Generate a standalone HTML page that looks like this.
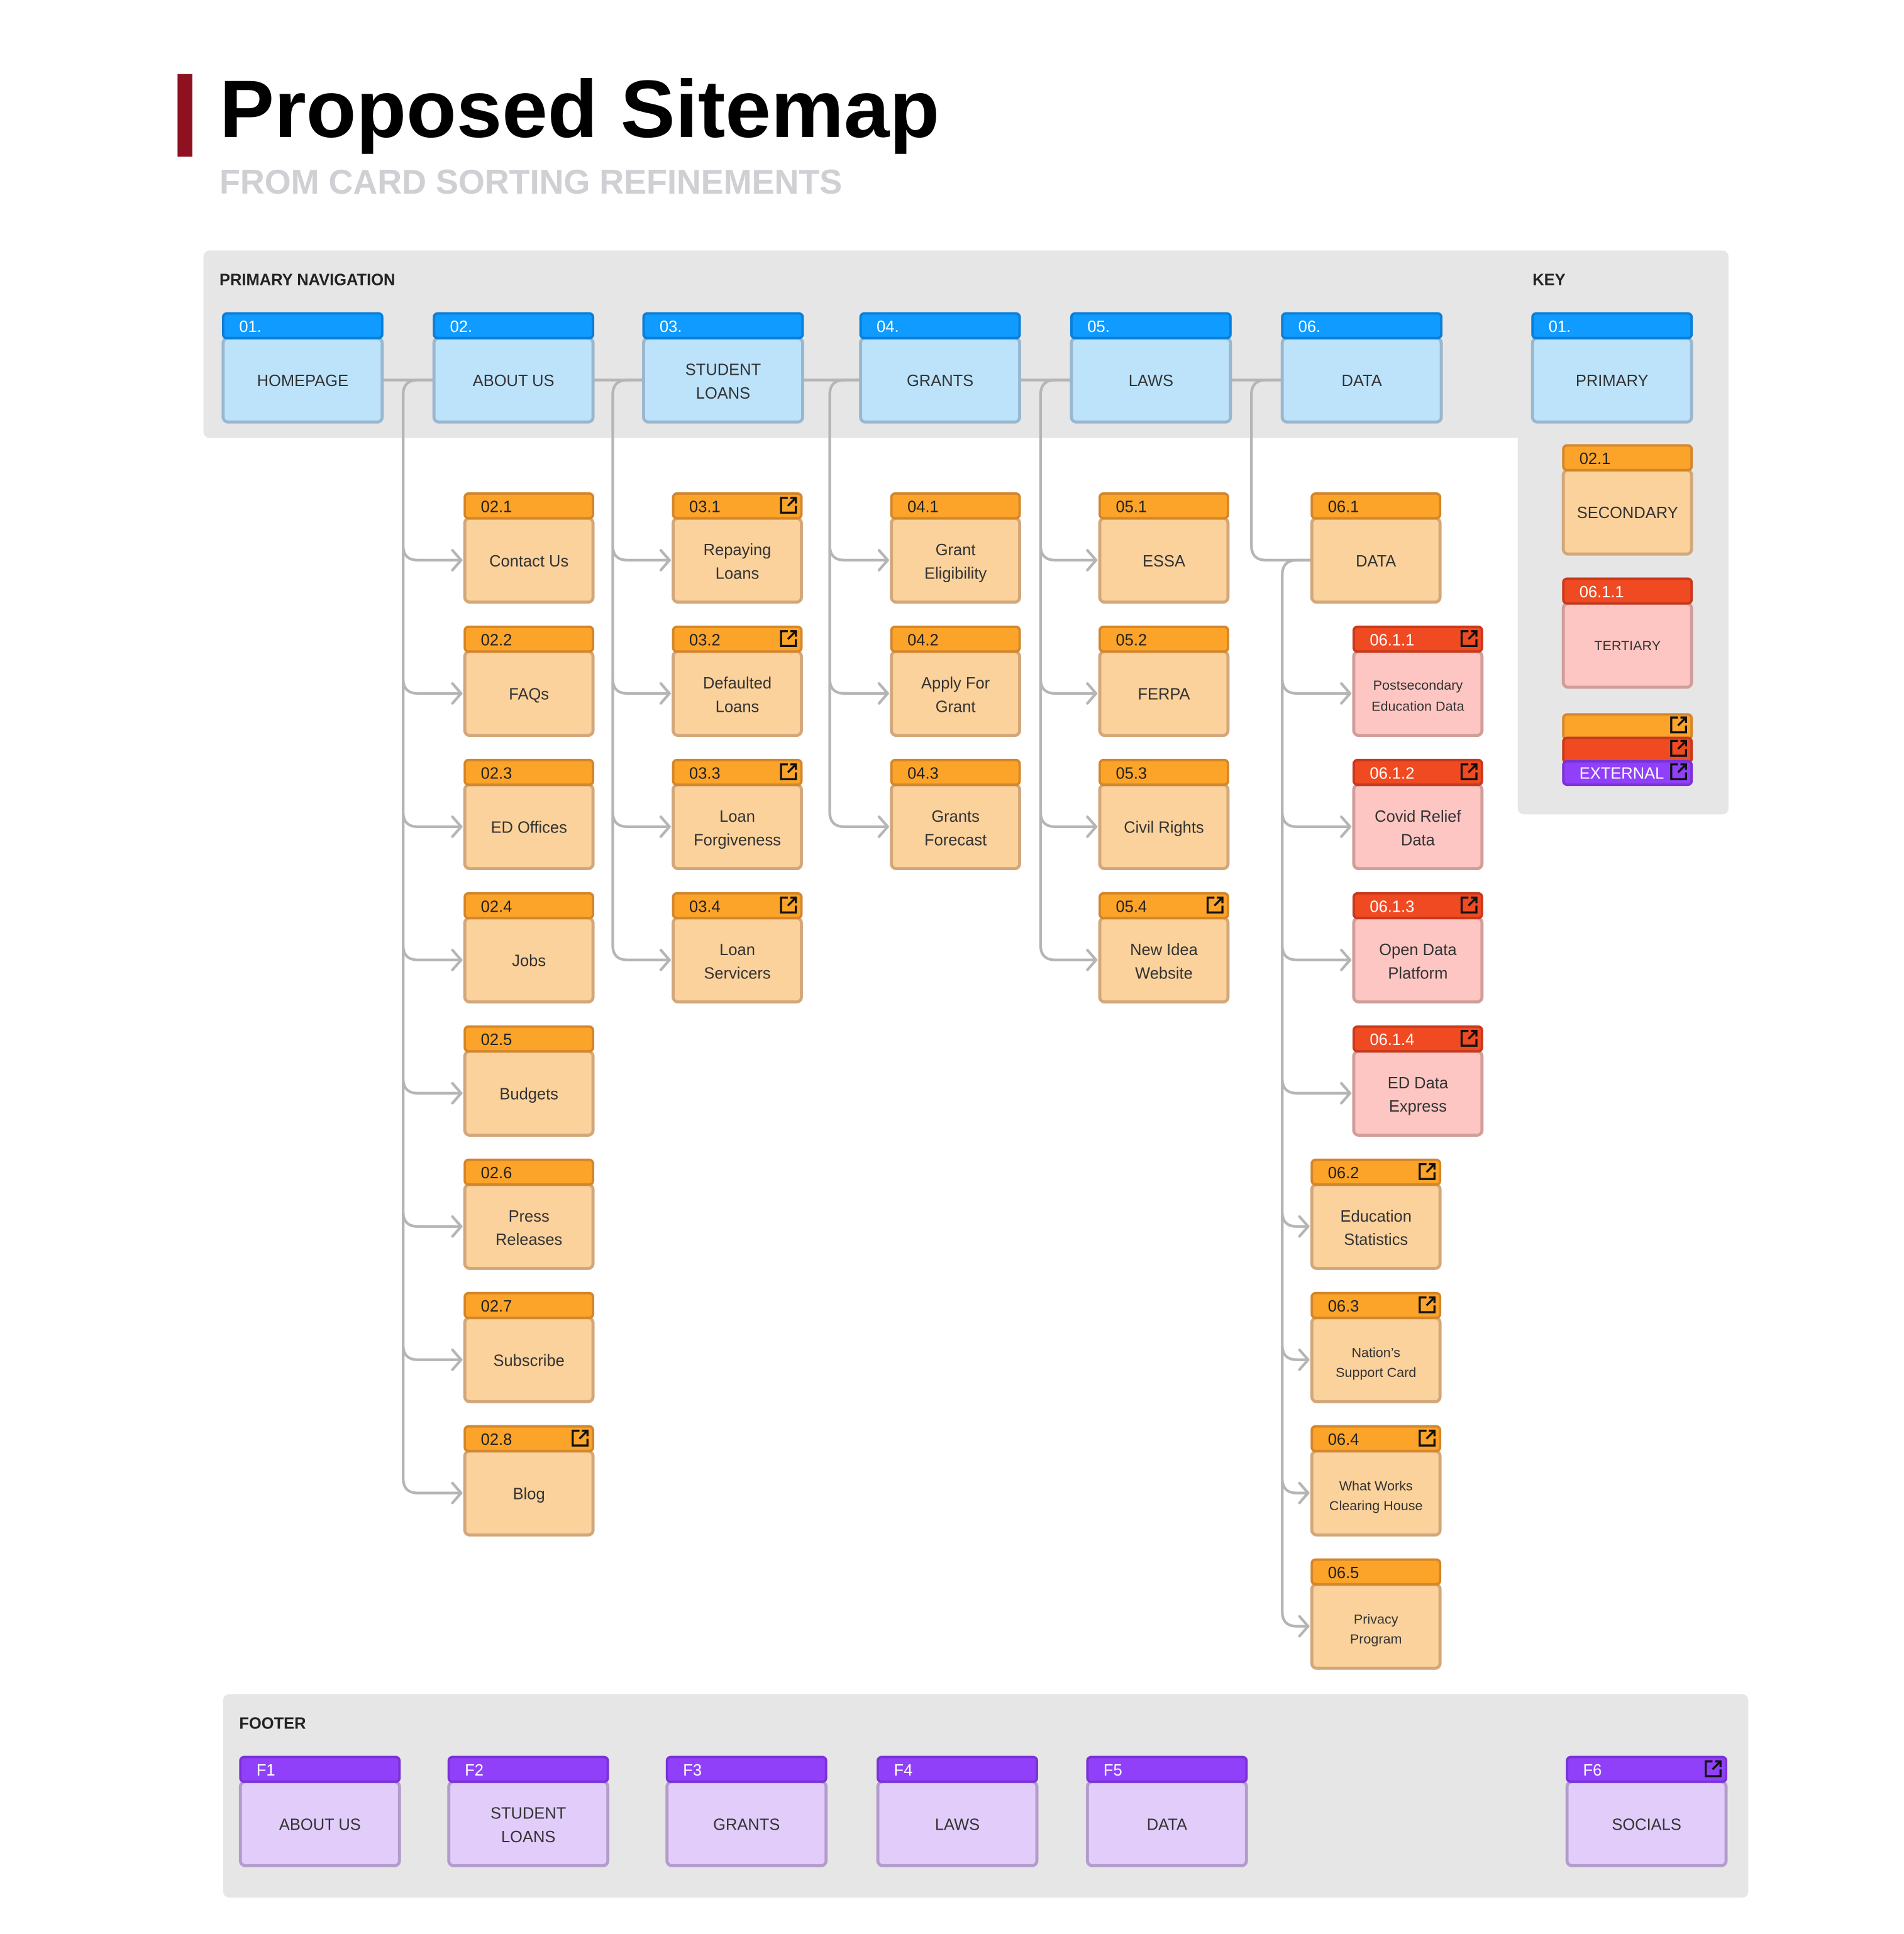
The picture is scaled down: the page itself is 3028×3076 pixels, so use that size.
<!DOCTYPE html>
<html><head><meta charset="utf-8"><style>
html,body{margin:0;padding:0;background:#fff}
svg{display:block}
text{font-family:"Liberation Sans",sans-serif}
.h{stroke-width:2}
.b{stroke-width:2.5}
.p .h{fill:#0f9bff;stroke:#0a7ed8}.p .b{fill:#bde3fb;stroke:#99b7cf}
.s .h{fill:#fca42a;stroke:#d4862a}.s .b{fill:#fbd29c;stroke:#d2a77a}
.t .h{fill:#f04a23;stroke:#c8391c}.t .b{fill:#fdc6c2;stroke:#d09e9a}
.f .h{fill:#9140fa;stroke:#7a32d6}.f .b{fill:#e2cdfa;stroke:#b39ccc}
.hl{font-size:13px;fill:#fff}
.s .hl{fill:#222}
.bl{font-size:13px;fill:#333;text-anchor:middle}
.sm{font-size:11px}
.ic{fill:none;stroke:#111;stroke-width:1.7}
.ln{fill:none;stroke:#b5b5b5;stroke-width:2.2;stroke-linecap:round;stroke-linejoin:round}
.sec{font-size:13px;font-weight:bold;fill:#222}
</style></head><body>
<svg width="3028" height="3076" viewBox="0 0 1544.3 1567.4" preserveAspectRatio="none" xmlns="http://www.w3.org/2000/svg">
<defs>
<g id="ic"><path class="ic" d="M7 1.5H1.5V13.5H13.5V8"/><path class="ic" d="M9 1.5H13.5V6M13.5 1.5L7 8"/></g>
</defs>
<!-- title -->
<rect x="144" y="60" width="12" height="67" fill="#8e1120"/>
<text x="178" y="111" font-size="66" font-weight="bold" fill="#000" textLength="584" lengthAdjust="spacingAndGlyphs">Proposed Sitemap</text>
<text x="178" y="157" font-size="28" font-weight="bold" fill="#cfcfd4" textLength="505" lengthAdjust="spacingAndGlyphs">FROM CARD SORTING REFINEMENTS</text>
<!-- panels -->
<rect x="165" y="203" width="1237" height="152" rx="5" fill="#e6e6e6"/>
<rect x="1231" y="340" width="171" height="320" rx="5" fill="#e6e6e6"/>
<rect x="181" y="1373" width="1237" height="165" rx="5" fill="#e6e6e6"/>
<text x="178" y="231" class="sec">PRIMARY NAVIGATION</text>
<text x="1243" y="231" class="sec">KEY</text>
<text x="194" y="1401" class="sec">FOOTER</text>
<!-- connectors -->
<path class="ln" d="M311,308H351M482,308H521M652,308H697M828,308H868M999,308H1039"/>
<path class="ln" d="M351,308H339Q327,308 327,320M521,308H509Q497,308 497,320M697,308H685Q673,308 673,320M868,308H856Q844,308 844,320M1039,308H1027Q1015,308 1015,320"/>
<path class="ln" d="M327,320V442Q327,454 339,454H374M327,320V550Q327,562 339,562H374M327,320V658Q327,670 339,670H374M327,320V766Q327,778 339,778H374M327,320V874Q327,886 339,886H374M327,320V982Q327,994 339,994H374M327,320V1090Q327,1102 339,1102H374M327,320V1198Q327,1210 339,1210H374"/>
<path class="ln" d="M367,446L374,454L367,462M367,554L374,562L367,570M367,662L374,670L367,678M367,770L374,778L367,786M367,878L374,886L367,894M367,986L374,994L367,1002M367,1094L374,1102L367,1110M367,1202L374,1210L367,1218"/>
<path class="ln" d="M497,320V442Q497,454 509,454H543M497,320V550Q497,562 509,562H543M497,320V658Q497,670 509,670H543M497,320V766Q497,778 509,778H543"/>
<path class="ln" d="M536,446L543,454L536,462M536,554L543,562L536,570M536,662L543,670L536,678M536,770L543,778L536,786"/>
<path class="ln" d="M673,320V442Q673,454 685,454H720M673,320V550Q673,562 685,562H720M673,320V658Q673,670 685,670H720"/>
<path class="ln" d="M713,446L720,454L713,462M713,554L720,562L713,570M713,662L720,670L713,678"/>
<path class="ln" d="M844,320V442Q844,454 856,454H889M844,320V550Q844,562 856,562H889M844,320V658Q844,670 856,670H889M844,320V766Q844,778 856,778H889"/>
<path class="ln" d="M882,446L889,454L882,462M882,554L889,562L882,570M882,662L889,670L882,678M882,770L889,778L882,786"/>
<path class="ln" d="M1015,320V442Q1015,454 1027,454H1063"/>
<path class="ln" d="M1063,454H1052Q1040,454 1040,466"/>
<path class="ln" d="M1040,466V550Q1040,562 1052,562H1095M1040,466V658Q1040,670 1052,670H1095M1040,466V766Q1040,778 1052,778H1095M1040,466V874Q1040,886 1052,886H1095M1040,466V982Q1040,994 1052,994H1061M1040,466V1090Q1040,1102 1052,1102H1061M1040,466V1198Q1040,1210 1052,1210H1061M1040,466V1306Q1040,1318 1052,1318H1061"/>
<path class="ln" d="M1088,554L1095,562L1088,570M1088,662L1095,670L1088,678M1088,770L1095,778L1088,786M1088,878L1095,886L1088,894M1054,986L1061,994L1054,1002M1054,1094L1061,1102L1054,1110M1054,1202L1061,1210L1054,1218M1054,1310L1061,1318L1054,1326"/>

<!-- primary cards -->
<g class="p" transform="translate(180,253)"><rect class="b" x="1" y="21" width="129" height="68" rx="4"/><rect class="h" x="1" y="1" width="129" height="20" rx="3"/><text class="hl" x="14" y="16">01.</text><text class="bl" x="65.5" y="60">HOMEPAGE</text></g>
<g class="p" transform="translate(351,253)"><rect class="b" x="1" y="21" width="129" height="68" rx="4"/><rect class="h" x="1" y="1" width="129" height="20" rx="3"/><text class="hl" x="14" y="16">02.</text><text class="bl" x="65.5" y="60">ABOUT US</text></g>
<g class="p" transform="translate(521,253)"><rect class="b" x="1" y="21" width="129" height="68" rx="4"/><rect class="h" x="1" y="1" width="129" height="20" rx="3"/><text class="hl" x="14" y="16">03.</text><text class="bl" x="65.5" y="51">STUDENT</text><text class="bl" x="65.5" y="70">LOANS</text></g>
<g class="p" transform="translate(697,253)"><rect class="b" x="1" y="21" width="129" height="68" rx="4"/><rect class="h" x="1" y="1" width="129" height="20" rx="3"/><text class="hl" x="14" y="16">04.</text><text class="bl" x="65.5" y="60">GRANTS</text></g>
<g class="p" transform="translate(868,253)"><rect class="b" x="1" y="21" width="129" height="68" rx="4"/><rect class="h" x="1" y="1" width="129" height="20" rx="3"/><text class="hl" x="14" y="16">05.</text><text class="bl" x="65.5" y="60">LAWS</text></g>
<g class="p" transform="translate(1039,253)"><rect class="b" x="1" y="21" width="129" height="68" rx="4"/><rect class="h" x="1" y="1" width="129" height="20" rx="3"/><text class="hl" x="14" y="16">06.</text><text class="bl" x="65.5" y="60">DATA</text></g>
<g class="p" transform="translate(1242,253)"><rect class="b" x="1" y="21" width="129" height="68" rx="4"/><rect class="h" x="1" y="1" width="129" height="20" rx="3"/><text class="hl" x="14" y="16">01.</text><text class="bl" x="65.5" y="60">PRIMARY</text></g>

<!-- column 02 -->
<g class="s" transform="translate(376,399)"><rect class="b" x="1" y="21" width="104" height="68" rx="4"/><rect class="h" x="1" y="1" width="104" height="20" rx="3"/><text class="hl" x="14" y="16">02.1</text><text class="bl" x="53" y="60">Contact Us</text></g>
<g class="s" transform="translate(376,507)"><rect class="b" x="1" y="21" width="104" height="68" rx="4"/><rect class="h" x="1" y="1" width="104" height="20" rx="3"/><text class="hl" x="14" y="16">02.2</text><text class="bl" x="53" y="60">FAQs</text></g>
<g class="s" transform="translate(376,615)"><rect class="b" x="1" y="21" width="104" height="68" rx="4"/><rect class="h" x="1" y="1" width="104" height="20" rx="3"/><text class="hl" x="14" y="16">02.3</text><text class="bl" x="53" y="60">ED Offices</text></g>
<g class="s" transform="translate(376,723)"><rect class="b" x="1" y="21" width="104" height="68" rx="4"/><rect class="h" x="1" y="1" width="104" height="20" rx="3"/><text class="hl" x="14" y="16">02.4</text><text class="bl" x="53" y="60">Jobs</text></g>
<g class="s" transform="translate(376,831)"><rect class="b" x="1" y="21" width="104" height="68" rx="4"/><rect class="h" x="1" y="1" width="104" height="20" rx="3"/><text class="hl" x="14" y="16">02.5</text><text class="bl" x="53" y="60">Budgets</text></g>
<g class="s" transform="translate(376,939)"><rect class="b" x="1" y="21" width="104" height="68" rx="4"/><rect class="h" x="1" y="1" width="104" height="20" rx="3"/><text class="hl" x="14" y="16">02.6</text><text class="bl" x="53" y="51">Press</text><text class="bl" x="53" y="70">Releases</text></g>
<g class="s" transform="translate(376,1047)"><rect class="b" x="1" y="21" width="104" height="68" rx="4"/><rect class="h" x="1" y="1" width="104" height="20" rx="3"/><text class="hl" x="14" y="16">02.7</text><text class="bl" x="53" y="60">Subscribe</text></g>
<g class="s" transform="translate(376,1155)"><rect class="b" x="1" y="21" width="104" height="68" rx="4"/><rect class="h" x="1" y="1" width="104" height="20" rx="3"/><text class="hl" x="14" y="16">02.8</text><use href="#ic" x="87" y="3"/><text class="bl" x="53" y="60">Blog</text></g>

<!-- column 03 -->
<g class="s" transform="translate(545,399)"><rect class="b" x="1" y="21" width="104" height="68" rx="4"/><rect class="h" x="1" y="1" width="104" height="20" rx="3"/><text class="hl" x="14" y="16">03.1</text><use href="#ic" x="87" y="3"/><text class="bl" x="53" y="51">Repaying</text><text class="bl" x="53" y="70">Loans</text></g>
<g class="s" transform="translate(545,507)"><rect class="b" x="1" y="21" width="104" height="68" rx="4"/><rect class="h" x="1" y="1" width="104" height="20" rx="3"/><text class="hl" x="14" y="16">03.2</text><use href="#ic" x="87" y="3"/><text class="bl" x="53" y="51">Defaulted</text><text class="bl" x="53" y="70">Loans</text></g>
<g class="s" transform="translate(545,615)"><rect class="b" x="1" y="21" width="104" height="68" rx="4"/><rect class="h" x="1" y="1" width="104" height="20" rx="3"/><text class="hl" x="14" y="16">03.3</text><use href="#ic" x="87" y="3"/><text class="bl" x="53" y="51">Loan</text><text class="bl" x="53" y="70">Forgiveness</text></g>
<g class="s" transform="translate(545,723)"><rect class="b" x="1" y="21" width="104" height="68" rx="4"/><rect class="h" x="1" y="1" width="104" height="20" rx="3"/><text class="hl" x="14" y="16">03.4</text><use href="#ic" x="87" y="3"/><text class="bl" x="53" y="51">Loan</text><text class="bl" x="53" y="70">Servicers</text></g>

<!-- column 04 -->
<g class="s" transform="translate(722,399)"><rect class="b" x="1" y="21" width="104" height="68" rx="4"/><rect class="h" x="1" y="1" width="104" height="20" rx="3"/><text class="hl" x="14" y="16">04.1</text><text class="bl" x="53" y="51">Grant</text><text class="bl" x="53" y="70">Eligibility</text></g>
<g class="s" transform="translate(722,507)"><rect class="b" x="1" y="21" width="104" height="68" rx="4"/><rect class="h" x="1" y="1" width="104" height="20" rx="3"/><text class="hl" x="14" y="16">04.2</text><text class="bl" x="53" y="51">Apply For</text><text class="bl" x="53" y="70">Grant</text></g>
<g class="s" transform="translate(722,615)"><rect class="b" x="1" y="21" width="104" height="68" rx="4"/><rect class="h" x="1" y="1" width="104" height="20" rx="3"/><text class="hl" x="14" y="16">04.3</text><text class="bl" x="53" y="51">Grants</text><text class="bl" x="53" y="70">Forecast</text></g>

<!-- column 05 -->
<g class="s" transform="translate(891,399)"><rect class="b" x="1" y="21" width="104" height="68" rx="4"/><rect class="h" x="1" y="1" width="104" height="20" rx="3"/><text class="hl" x="14" y="16">05.1</text><text class="bl" x="53" y="60">ESSA</text></g>
<g class="s" transform="translate(891,507)"><rect class="b" x="1" y="21" width="104" height="68" rx="4"/><rect class="h" x="1" y="1" width="104" height="20" rx="3"/><text class="hl" x="14" y="16">05.2</text><text class="bl" x="53" y="60">FERPA</text></g>
<g class="s" transform="translate(891,615)"><rect class="b" x="1" y="21" width="104" height="68" rx="4"/><rect class="h" x="1" y="1" width="104" height="20" rx="3"/><text class="hl" x="14" y="16">05.3</text><text class="bl" x="53" y="60">Civil Rights</text></g>
<g class="s" transform="translate(891,723)"><rect class="b" x="1" y="21" width="104" height="68" rx="4"/><rect class="h" x="1" y="1" width="104" height="20" rx="3"/><text class="hl" x="14" y="16">05.4</text><use href="#ic" x="87" y="3"/><text class="bl" x="53" y="51">New Idea</text><text class="bl" x="53" y="70">Website</text></g>

<!-- column 06 -->
<g class="s" transform="translate(1063,399)"><rect class="b" x="1" y="21" width="104" height="68" rx="4"/><rect class="h" x="1" y="1" width="104" height="20" rx="3"/><text class="hl" x="14" y="16">06.1</text><text class="bl" x="53" y="60">DATA</text></g>
<g class="t" transform="translate(1097,507)"><rect class="b" x="1" y="21" width="104" height="68" rx="4"/><rect class="h" x="1" y="1" width="104" height="20" rx="3"/><text class="hl" x="14" y="16">06.1.1</text><use href="#ic" x="87" y="3"/><text class="bl sm" x="53" y="52">Postsecondary</text><text class="bl sm" x="53" y="69">Education Data</text></g>
<g class="t" transform="translate(1097,615)"><rect class="b" x="1" y="21" width="104" height="68" rx="4"/><rect class="h" x="1" y="1" width="104" height="20" rx="3"/><text class="hl" x="14" y="16">06.1.2</text><use href="#ic" x="87" y="3"/><text class="bl" x="53" y="51">Covid Relief</text><text class="bl" x="53" y="70">Data</text></g>
<g class="t" transform="translate(1097,723)"><rect class="b" x="1" y="21" width="104" height="68" rx="4"/><rect class="h" x="1" y="1" width="104" height="20" rx="3"/><text class="hl" x="14" y="16">06.1.3</text><use href="#ic" x="87" y="3"/><text class="bl" x="53" y="51">Open Data</text><text class="bl" x="53" y="70">Platform</text></g>
<g class="t" transform="translate(1097,831)"><rect class="b" x="1" y="21" width="104" height="68" rx="4"/><rect class="h" x="1" y="1" width="104" height="20" rx="3"/><text class="hl" x="14" y="16">06.1.4</text><use href="#ic" x="87" y="3"/><text class="bl" x="53" y="51">ED Data</text><text class="bl" x="53" y="70">Express</text></g>
<g class="s" transform="translate(1063,939)"><rect class="b" x="1" y="21" width="104" height="68" rx="4"/><rect class="h" x="1" y="1" width="104" height="20" rx="3"/><text class="hl" x="14" y="16">06.2</text><use href="#ic" x="87" y="3"/><text class="bl" x="53" y="51">Education</text><text class="bl" x="53" y="70">Statistics</text></g>
<g class="s" transform="translate(1063,1047)"><rect class="b" x="1" y="21" width="104" height="68" rx="4"/><rect class="h" x="1" y="1" width="104" height="20" rx="3"/><text class="hl" x="14" y="16">06.3</text><use href="#ic" x="87" y="3"/><text class="bl sm" x="53" y="53">Nation’s</text><text class="bl sm" x="53" y="69">Support Card</text></g>
<g class="s" transform="translate(1063,1155)"><rect class="b" x="1" y="21" width="104" height="68" rx="4"/><rect class="h" x="1" y="1" width="104" height="20" rx="3"/><text class="hl" x="14" y="16">06.4</text><use href="#ic" x="87" y="3"/><text class="bl sm" x="53" y="53">What Works</text><text class="bl sm" x="53" y="69">Clearing House</text></g>
<g class="s" transform="translate(1063,1263)"><rect class="b" x="1" y="21" width="104" height="68" rx="4"/><rect class="h" x="1" y="1" width="104" height="20" rx="3"/><text class="hl" x="14" y="16">06.5</text><text class="bl sm" x="53" y="53">Privacy</text><text class="bl sm" x="53" y="69">Program</text></g>

<!-- key -->
<g class="s" transform="translate(1267,360)"><rect class="b" x="1" y="21" width="104" height="68" rx="4"/><rect class="h" x="1" y="1" width="104" height="20" rx="3"/><text class="hl" x="14" y="16">02.1</text><text class="bl" x="53" y="60">SECONDARY</text></g>
<g class="t" transform="translate(1267,468)"><rect class="b" x="1" y="21" width="104" height="68" rx="4"/><rect class="h" x="1" y="1" width="104" height="20" rx="3"/><text class="hl" x="14" y="16">06.1.1</text><text class="bl sm" x="53" y="59">TERTIARY</text></g>
<g class="s" transform="translate(1267,578)"><rect class="h" x="1" y="1" width="104" height="20" rx="3"/><use href="#ic" x="87" y="2"/></g>
<g class="t" transform="translate(1267,597)"><rect class="h" x="1" y="1" width="104" height="20" rx="3"/><use href="#ic" x="87" y="2"/></g>
<g class="f" transform="translate(1267,616)"><rect class="h" x="1" y="1" width="104" height="19" rx="3"/><text class="hl" x="14" y="15">EXTERNAL</text><use href="#ic" x="87" y="2"/></g>

<!-- footer -->
<g class="f" transform="translate(194,1423)"><rect class="b" x="1" y="21" width="129" height="68" rx="4"/><rect class="h" x="1" y="1" width="129" height="20" rx="3"/><text class="hl" x="14" y="16">F1</text><text class="bl" x="65.5" y="60">ABOUT US</text></g>
<g class="f" transform="translate(363,1423)"><rect class="b" x="1" y="21" width="129" height="68" rx="4"/><rect class="h" x="1" y="1" width="129" height="20" rx="3"/><text class="hl" x="14" y="16">F2</text><text class="bl" x="65.5" y="51">STUDENT</text><text class="bl" x="65.5" y="70">LOANS</text></g>
<g class="f" transform="translate(540,1423)"><rect class="b" x="1" y="21" width="129" height="68" rx="4"/><rect class="h" x="1" y="1" width="129" height="20" rx="3"/><text class="hl" x="14" y="16">F3</text><text class="bl" x="65.5" y="60">GRANTS</text></g>
<g class="f" transform="translate(711,1423)"><rect class="b" x="1" y="21" width="129" height="68" rx="4"/><rect class="h" x="1" y="1" width="129" height="20" rx="3"/><text class="hl" x="14" y="16">F4</text><text class="bl" x="65.5" y="60">LAWS</text></g>
<g class="f" transform="translate(881,1423)"><rect class="b" x="1" y="21" width="129" height="68" rx="4"/><rect class="h" x="1" y="1" width="129" height="20" rx="3"/><text class="hl" x="14" y="16">F5</text><text class="bl" x="65.5" y="60">DATA</text></g>
<g class="f" transform="translate(1270,1423)"><rect class="b" x="1" y="21" width="129" height="68" rx="4"/><rect class="h" x="1" y="1" width="129" height="20" rx="3"/><text class="hl" x="14" y="16">F6</text><use href="#ic" x="112" y="3"/><text class="bl" x="65.5" y="60">SOCIALS</text></g>
</svg>
</body></html>
